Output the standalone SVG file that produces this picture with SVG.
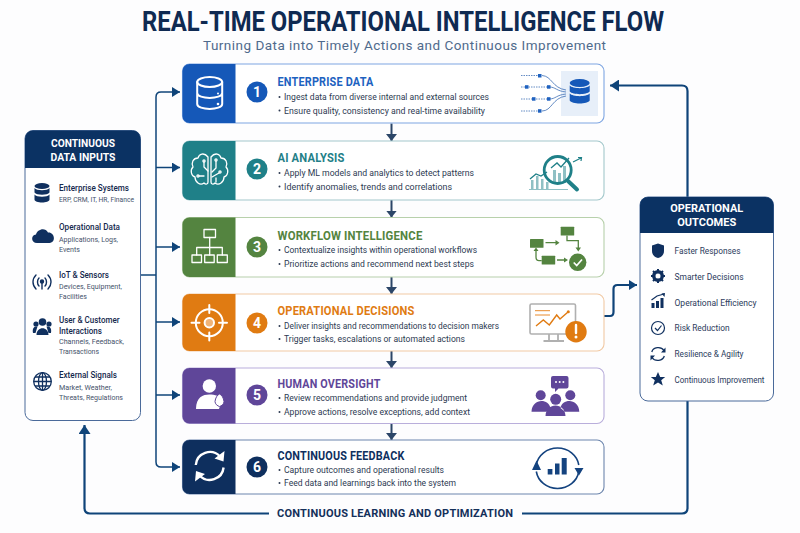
<svg xmlns="http://www.w3.org/2000/svg" width="800" height="533" viewBox="0 0 800 533">
<style>
text{font-family:"Roboto","Liberation Sans",sans-serif}
.t{font-size:12px;font-weight:700;letter-spacing:.2px}
.b{font-size:9px;fill:#2d3a52;font-weight:400}
.dot{fill:#2d3a52}
.n{font-size:14px;font-weight:700;fill:#fff;text-anchor:middle}
.h{font-size:11.5px;font-weight:700;fill:#fff}
.i{font-size:8.5px;fill:#14284d;font-weight:500}
.s{font-size:7.5px;fill:#45526a}
.o{font-size:8.5px;fill:#2b3b5c}
.w{fill:none;stroke:#fff;stroke-width:2;stroke-linecap:round;stroke-linejoin:round}
.w1{fill:none;stroke:#fff;stroke-width:1.300;stroke-linecap:round;stroke-linejoin:round}
.card{fill:#fff;stroke-width:1.100}
.panel{fill:#fff;stroke:#4a6a9a;stroke-width:1}
.flow{fill:none;stroke:#2c4668;stroke-width:2}
.feed{fill:none;stroke:#0f4479;stroke-width:2.200;stroke-linejoin:round}
.in{fill:none;stroke:#0f4479;stroke-width:1.500}
.nv{fill:#10305f}
</style>
<defs>
<marker id="ah" markerWidth="9" markerHeight="10" refX="8" refY="5" orient="auto" markerUnits="userSpaceOnUse"><path d="M0 0L8 5L0 10Z" fill="#0f4479"/></marker>
<marker id="af" markerWidth="10" markerHeight="12" refX="9" refY="6" orient="auto" markerUnits="userSpaceOnUse"><path d="M0 0L9 6L0 12Z" fill="#0f4479"/></marker>
<marker id="av" markerWidth="8" markerHeight="11" refX="7" refY="5.500" orient="auto" markerUnits="userSpaceOnUse"><path d="M0 0L7 5.500L0 11Z" fill="#2c4668"/></marker>
</defs>
<rect width="800" height="533" fill="#fdfdfe"/>
<g id="header">
<text x="142" y="31" font-size="28.500" font-weight="700" fill="#0f2a52" textLength="522" lengthAdjust="spacingAndGlyphs">REAL-TIME OPERATIONAL INTELLIGENCE FLOW</text>
<text x="203" y="50" font-size="13.500" fill="#4f6a8c" textLength="403" lengthAdjust="spacing">Turning Data into Timely Actions and Continuous Improvement</text>
</g>
<g id="connectors">
<path class="in" d="M140.500 275H156"/>
<path class="in" d="M161 92H180" marker-end="url(#ah)"/>
<path class="in" d="M161 92Q156 92 156 97V462Q156 467 161 467H180" marker-end="url(#ah)"/>
<path class="in" d="M156 167.500H180" marker-end="url(#ah)"/>
<path class="in" d="M156 247H180" marker-end="url(#ah)"/>
<path class="in" d="M156 322H180" marker-end="url(#ah)"/>
<path class="in" d="M156 395H180" marker-end="url(#ah)"/>
<path class="flow" d="M391.500 123.500V141" marker-end="url(#av)"/>
<path class="flow" d="M391.500 200V217.500" marker-end="url(#av)"/>
<path class="flow" d="M391.500 277V294" marker-end="url(#av)"/>
<path class="flow" d="M391.500 351V368" marker-end="url(#av)"/>
<path class="flow" d="M391.500 423.500V440" marker-end="url(#av)"/>
<path class="feed" d="M604 316H610Q613.500 316 613.500 312V289Q613.500 285 617.500 285H637" marker-end="url(#ah)"/>
<path class="feed" d="M687.500 197V91Q687.500 85.500 682 85.500H610" marker-end="url(#af)"/>
<path class="feed" d="M687.500 401V508Q687.500 513.500 682 513.500H522"/>
<path class="feed" d="M269 513.500H90Q84.500 513.500 84.500 508V425" marker-end="url(#af)"/>
<text x="277" y="517.300" font-size="11" font-weight="700" fill="#14305a" textLength="236" lengthAdjust="spacing">CONTINUOUS LEARNING AND OPTIMIZATION</text>
</g>
<g id="inputs">
<rect class="panel" x="25" y="130.500" width="115.500" height="290" rx="8"/>
<path style="fill:#0b3263" d="M25 168V138.500a8 8 0 0 1 8-8H132.500a8 8 0 0 1 8 8V168Z"/>
<text class="h" x="83" y="147" text-anchor="middle" textLength="64" lengthAdjust="spacingAndGlyphs">CONTINUOUS</text>
<text class="h" x="83" y="161" text-anchor="middle" textLength="65" lengthAdjust="spacingAndGlyphs">DATA INPUTS</text>
<g id="input-enterprise">
<ellipse class="nv" cx="42" cy="186" rx="7.500" ry="3"/><path class="nv" d="M34.500 188c2 3 13 3 15 0v4.500c-2 3-13 3-15 0ZM34.500 194.500c2 3 13 3 15 0v5c0 4-15 4-15 0Z"/>
<text class="i" x="59" y="191" textLength="70" lengthAdjust="spacingAndGlyphs">Enterprise Systems</text>
<text class="s" x="59" y="202" textLength="75" lengthAdjust="spacingAndGlyphs">ERP, CRM, IT, HR, Finance</text></g>
<g id="input-operational">
<path class="nv" d="M37 243c-6 0-6.500-8-1-8.500 1-5 9-8 12-2 6-1 9 9.500 1.500 10.500Z"/>
<text class="i" x="59" y="230" textLength="61" lengthAdjust="spacingAndGlyphs">Operational Data</text>
<text class="s" x="59" y="241.500" textLength="59" lengthAdjust="spacingAndGlyphs">Applications, Logs,</text>
<text class="s" x="59" y="251.500" textLength="21" lengthAdjust="spacingAndGlyphs">Events</text></g>
<g id="input-iot" fill="none" stroke="#10305f" stroke-width="1.400" stroke-linecap="round">
<path d="M36 275c-4 4-4 10 0 14M48 275c4 4 4 10 0 14M39 278c-2 2-2 6 0 8M45 278c2 2 2 6 0 8M42 282V289"/><circle cx="42" cy="281.500" r="1.500" fill="#10305f"/>
<text class="i" x="59" y="278" stroke="none" textLength="50" lengthAdjust="spacingAndGlyphs">IoT &amp; Sensors</text>
<text class="s" x="59" y="289" stroke="none" textLength="63" lengthAdjust="spacingAndGlyphs">Devices, Equipment,</text>
<text class="s" x="59" y="299" stroke="none" textLength="28" lengthAdjust="spacingAndGlyphs">Facilities</text></g>
<g id="input-users">
<circle class="nv" cx="42.500" cy="322" r="3.800"/><circle class="nv" cx="36" cy="324" r="2.600"/><circle class="nv" cx="49" cy="324" r="2.600"/>
<path class="nv" d="M36.500 335c0-9 12-9 12 0ZM33 333c-1-6 2-7 4.500-6.500l-2 6.500ZM51 333c1-6-2-7-4.500-6.500l2 6.500Z"/>
<text class="i" x="59" y="323" textLength="60.500" lengthAdjust="spacingAndGlyphs">User &amp; Customer</text>
<text class="i" x="59" y="333.500" textLength="43" lengthAdjust="spacingAndGlyphs">Interactions</text>
<text class="s" x="59" y="344" textLength="65" lengthAdjust="spacingAndGlyphs">Channels, Feedback,</text>
<text class="s" x="59" y="354" textLength="40" lengthAdjust="spacingAndGlyphs">Transactions</text></g>
<g id="input-external">
<g fill="none" stroke="#10305f" stroke-width="1.300"><circle cx="42.500" cy="381.500" r="8.800"/><ellipse cx="42.500" cy="381.500" rx="4" ry="8.800"/><path d="M33.700 381.500H51.300M35 377H50M35 386H50M42.500 372.700V390.300"/></g>
<text class="i" x="59" y="378" textLength="58" lengthAdjust="spacingAndGlyphs">External Signals</text>
<text class="s" x="59" y="390" textLength="53" lengthAdjust="spacingAndGlyphs">Market, Weather,</text>
<text class="s" x="59" y="399.500" textLength="64" lengthAdjust="spacingAndGlyphs">Threats, Regulations</text></g>
</g>
<g id="card1">
<rect class="card" stroke="#7fa6e2" x="182.500" y="64" width="421.500" height="59" rx="7"/>
<path fill="#1558b8" d="M235.500 64V123H189.500a7 7 0 0 1-7-7V71a7 7 0 0 1 7-7Z"/>
<g class="w"><ellipse cx="209.700" cy="82" rx="12.500" ry="5"/><path d="M197.200 82V104c0 6.500 25 6.500 25 0V82M197.200 93c0 6.500 25 6.500 25 0"/></g>
<circle cx="218" cy="93.500" r="1" fill="#fff"/><circle cx="218" cy="104" r="1.300" fill="#fff"/>
<circle cx="257" cy="92" r="10.500" fill="#1558b8"/><text class="n" x="257" y="97">1</text>
<text class="t" x="277.500" y="86" fill="#1d62c0" textLength="96" lengthAdjust="spacingAndGlyphs">ENTERPRISE DATA</text>
<circle class="dot" cx="279.500" cy="97" r="1"/><text class="b" x="284" y="100" textLength="205" lengthAdjust="spacingAndGlyphs">Ingest data from diverse internal and external sources</text>
<circle class="dot" cx="279.500" cy="110.500" r="1"/><text class="b" x="284" y="113.500" textLength="201" lengthAdjust="spacingAndGlyphs">Ensure quality, consistency and real-time availability</text>
<rect x="561" y="71" width="37" height="45" fill="#e7eff9"/>
<g fill="none" stroke="#3d6fb5" stroke-width=".8"><path stroke-dasharray="1.500 1" d="M521 75.500H538M521 87H547M521 99H547M521 111H538"/><path d="M542 75.500C552 76 552 88 566 90M549 87C556 87 556 91 566 92M549 99C556 99 556 95 566 94M542 111C552 111 552 98 566 96"/></g>
<g fill="#1f62c0"><rect x="538" y="74" width="3.500" height="3.500"/><rect x="525" y="85.200" width="3.500" height="3.500"/><rect x="547" y="85.200" width="3.500" height="3.500"/><rect x="532" y="97.200" width="3.500" height="3.500"/><rect x="547" y="97.200" width="3.500" height="3.500"/><rect x="538" y="109.200" width="3.500" height="3.500"/></g>
<ellipse cx="579.700" cy="83" rx="10" ry="4" fill="#1558b8"/><path fill="#1558b8" d="M569.700 85.500c3 3.500 17 3.500 20 0v6c-3 3.500-17 3.500-20 0ZM569.700 93.500c3 3.500 17 3.500 20 0v7c-2 4-18 4-20 0Z"/>
</g>
<g id="card2">
<rect class="card" stroke="#a3c8cb" x="182.500" y="141" width="421.500" height="59" rx="7"/>
<path fill="#1f8088" d="M235.500 141V200H189.500a7 7 0 0 1-7-7V148a7 7 0 0 1 7-7Z"/>
<g class="w1"><path d="M208 157C204 152 199 154 198 158 193 158 191 163 193 167 190 170 191 176 195 177 195 182 200 186 204 183 206 185 208 184 208 182ZM211 157C215 152 220 154 221 158 226 158 228 163 226 167 229 170 228 176 224 177 224 182 219 186 215 183 213 185 211 184 211 182Z"/><path d="M208 171L204 167V162M204 176H199M212 172L216 168V161M212 177L219 173M216 182V178"/><circle cx="204" cy="161" r="1.100"/><circle cx="198" cy="176" r="1.100"/><circle cx="216" cy="160" r="1.100"/><circle cx="220" cy="172" r="1.100"/></g>
<circle cx="257" cy="169" r="10.500" fill="#1f8088"/><text class="n" x="257" y="174">2</text>
<text class="t" x="277.500" y="162" fill="#1f8088" textLength="67" lengthAdjust="spacingAndGlyphs">AI ANALYSIS</text>
<circle class="dot" cx="279.500" cy="173" r="1"/><text class="b" x="284" y="176" textLength="190" lengthAdjust="spacingAndGlyphs">Apply ML models and analytics to detect patterns</text>
<circle class="dot" cx="279.500" cy="186.500" r="1"/><text class="b" x="284" y="189.500" textLength="168" lengthAdjust="spacingAndGlyphs">Identify anomalies, trends and correlations</text>
<g fill="#8fc0c4"><rect x="531" y="180" width="2.500" height="9"/><rect x="536" y="176" width="2.500" height="13"/><rect x="541" y="179" width="2.500" height="10"/><rect x="546" y="182" width="2.500" height="7"/><rect x="553" y="170" width="3" height="14"/><rect x="558" y="173" width="3" height="11"/><rect x="563" y="166" width="3" height="17"/></g>
<path d="M529 189.500H568" stroke="#8fc0c4" stroke-width="1.200"/>
<g fill="none" stroke="#1f8088"><path stroke-width="1.300" d="M530 179L536 174 541 176 547 172M551 168L557 163 561 167 569 158"/><circle cx="557.700" cy="170" r="13.500" stroke-width="2.800"/><path stroke-width="4" stroke-linecap="round" d="M568 181L577 189.500"/><path stroke-width="1.200" d="M573 162L581 158M578 157.500L581.500 157.500 581 161"/></g>
</g>
<g id="card3">
<rect class="card" stroke="#b7d0ab" x="182.500" y="217.500" width="421.500" height="59.500" rx="7"/>
<path fill="#548440" d="M235.500 217.500V277H189.500a7 7 0 0 1-7-7V224.500a7 7 0 0 1 7-7Z"/>
<g class="w1"><rect x="204" y="229.500" width="11.500" height="8"/><rect x="192" y="255" width="9.500" height="7.500"/><rect x="204.700" y="255" width="9.500" height="7.500"/><rect x="217.300" y="255" width="10" height="7.500"/><path d="M209.700 237.500V255M196.700 255V247.500H222.300V255"/></g>
<circle cx="257" cy="247" r="10.500" fill="#548440"/><text class="n" x="257" y="252">3</text>
<text class="t" x="277.500" y="240" fill="#548440" textLength="145" lengthAdjust="spacingAndGlyphs">WORKFLOW INTELLIGENCE</text>
<circle class="dot" cx="279.500" cy="250" r="1"/><text class="b" x="284" y="253" textLength="193" lengthAdjust="spacingAndGlyphs">Contextualize insights within operational workflows</text>
<circle class="dot" cx="279.500" cy="264" r="1"/><text class="b" x="284" y="267" textLength="190" lengthAdjust="spacingAndGlyphs">Prioritize actions and recommend next best steps</text>
<g fill="#548440"><rect x="530" y="239" width="13.500" height="8.700" rx=".5"/><rect x="560.700" y="226.700" width="13.500" height="8.700" rx=".5"/><rect x="541.700" y="255.700" width="13.500" height="8.700" rx=".5"/><circle cx="577.700" cy="262.300" r="8.700"/><path d="M555.500 240L559.500 242.700 555.500 245.500ZM564 257.500L568 260 564 262.500ZM575.500 247.500L581 247.500 578.300 251.500ZM533.500 251L538.500 251 536 247.500Z"/></g>
<g fill="none" stroke="#548440" stroke-width="1.300"><path d="M545.500 242.700H556M557 260H565M567 235.500V240.700H578.300V248M541.700 260.700H539Q536 260.700 536 257V250"/></g>
<path d="M573.700 262.500L576.700 265.500 582 259.500" fill="none" stroke="#fff" stroke-width="1.700"/>
</g>
<g id="card4">
<rect class="card" stroke="#f1c9a4" x="182.500" y="294" width="421.500" height="57" rx="7"/>
<path fill="#e07b12" d="M235.500 294V351H189.500a7 7 0 0 1-7-7V301a7 7 0 0 1 7-7Z"/>
<g class="w"><circle cx="209.300" cy="322.700" r="13.500"/><path d="M209.300 305V313M209.300 332.500V340.500M191.500 322.700H199.500M219 322.700H227"/><circle cx="209.300" cy="322.700" r="4.700" fill="#f0b478"/></g>
<circle cx="257" cy="323" r="10.500" fill="#e07b12"/><text class="n" x="257" y="328">4</text>
<text class="t" x="277.500" y="315" fill="#e07b12" textLength="137" lengthAdjust="spacingAndGlyphs">OPERATIONAL DECISIONS</text>
<circle class="dot" cx="279.500" cy="326" r="1"/><text class="b" x="284" y="329" textLength="215" lengthAdjust="spacingAndGlyphs">Deliver insights and recommendations to decision makers</text>
<circle class="dot" cx="279.500" cy="339" r="1"/><text class="b" x="284" y="342" textLength="181" lengthAdjust="spacingAndGlyphs">Trigger tasks, escalations or automated actions</text>
<rect x="530" y="304" width="45.500" height="30" rx="1.500" fill="#fff" stroke="#b0b0b0" stroke-width="1.600"/>
<path d="M549 334V340M558 334V340M543.500 341H564" stroke="#b0b0b0" stroke-width="1.800" fill="none"/>
<path d="M535 310.700H550M535 315H550" stroke="#e88a2c" stroke-width="1"/>
<path d="M536 326L543.300 320 549.300 325 556.700 315 560 319 568.300 311.700" fill="none" stroke="#e07b12" stroke-width="1.400"/>
<circle cx="568.300" cy="311.700" r="1.500" fill="#e07b12"/>
<circle cx="576" cy="331.700" r="10.700" fill="#e07b12"/>
<path d="M576 325V333" stroke="#fff" stroke-width="2.400" stroke-linecap="round"/><circle cx="576" cy="337" r="1.500" fill="#fff"/>
</g>
<g id="card5">
<rect class="card" stroke="#b9aedb" x="182.500" y="368" width="421.500" height="55.500" rx="7"/>
<path fill="#5f4699" d="M235.500 368V423.500H189.500a7 7 0 0 1-7-7V375a7 7 0 0 1 7-7Z"/>
<circle cx="209.300" cy="386" r="6.700" fill="#fff"/><path fill="#fff" d="M196 409C196 397 203 394.500 209.300 394.500 215 394.500 220 396 222 400L219 409Z"/>
<path fill="#fff" stroke="#5f4699" d="M219.500 394c2.500 1 4 4 4.500 7.500 0 2.500-2.500 4.500-4.500 5-2-.5-4.500-2.500-4.500-5 .5-3.500 2-6.500 4.500-7.500Z"/>
<circle cx="257" cy="395" r="10.500" fill="#5f4699"/><text class="n" x="257" y="400">5</text>
<text class="t" x="277.500" y="388" fill="#5f4699" textLength="103" lengthAdjust="spacingAndGlyphs">HUMAN OVERSIGHT</text>
<circle class="dot" cx="279.500" cy="398" r="1"/><text class="b" x="284" y="401" textLength="183" lengthAdjust="spacingAndGlyphs">Review recommendations and provide judgment</text>
<circle class="dot" cx="279.500" cy="412" r="1"/><text class="b" x="284" y="415" textLength="186" lengthAdjust="spacingAndGlyphs">Approve actions, resolve exceptions, add context</text>
<g fill="#5f4699"><path d="M553 376H566.500a2 2 0 0 1 2 2V386.500a2 2 0 0 1-2 2H558.500L555 392V388.500H553a2 2 0 0 1-2-2V378a2 2 0 0 1 2-2Z"/>
<circle cx="555.700" cy="399.300" r="5.500"/><circle cx="540.700" cy="395.300" r="5"/><circle cx="570.300" cy="395.300" r="5"/>
<path d="M531.500 411.700C532 398 548.500 398 550.500 408L546 411.700ZM579.300 411.700C579 398 562 398 560.500 408L565 411.700ZM545.500 416C546 402 565 402 565.500 416Z"/></g>
<g fill="#fff"><circle cx="556" cy="382" r="1"/><circle cx="559.700" cy="382" r="1"/><circle cx="563.400" cy="382" r="1"/></g>
</g>
<g id="card6">
<rect class="card" stroke="#6d86ad" x="182.500" y="440" width="421.500" height="54" rx="7"/>
<path fill="#0e2f5e" d="M235.500 440V494H189.500a7 7 0 0 1-7-7V447a7 7 0 0 1 7-7Z"/>
<g fill="none" stroke="#fff" stroke-width="2.400"><path d="M195.800 465A14 14 0 0 1 220 456.500M223.600 467.500A14 14 0 0 1 199.500 475.500"/></g>
<path fill="#fff" d="M224.500 451L223.500 461.500 214.500 458.500ZM195 481.500L196 471 205 474Z"/>
<circle cx="257" cy="467" r="10.500" fill="#0e2f5e"/><text class="n" x="257" y="472">6</text>
<text class="t" x="277.500" y="460" fill="#0e2f5e" textLength="127" lengthAdjust="spacingAndGlyphs">CONTINUOUS FEEDBACK</text>
<circle class="dot" cx="279.500" cy="470" r="1"/><text class="b" x="284" y="473" textLength="160" lengthAdjust="spacingAndGlyphs">Capture outcomes and operational results</text>
<circle class="dot" cx="279.500" cy="483" r="1"/><text class="b" x="284" y="486" textLength="172" lengthAdjust="spacingAndGlyphs">Feed data and learnings back into the system</text>
<g fill="none" stroke="#14437f" stroke-width="1.600"><path d="M536.300 465A21.500 20 0 0 1 578.800 465M578.800 471.500A21.500 20 0 0 1 536.300 471.500"/></g>
<path fill="#14437f" d="M532 470L536.500 460.500 541 470ZM574.500 468L583.500 468 579 475.500Z"/>
<g fill="#14437f"><rect x="547.700" y="469" width="4.700" height="5.500"/><rect x="555" y="463.500" width="4.500" height="11"/><rect x="561.700" y="458" width="5" height="16.500"/></g>
</g>
<g id="outcomes">
<rect class="panel" x="640" y="197" width="133.500" height="204" rx="8"/>
<path style="fill:#0b3263" d="M640 233V205a8 8 0 0 1 8-8H765.500a8 8 0 0 1 8 8V233Z"/>
<text class="h" x="706.700" y="212" text-anchor="middle" textLength="73" lengthAdjust="spacingAndGlyphs">OPERATIONAL</text>
<text class="h" x="706.700" y="226" text-anchor="middle" textLength="59" lengthAdjust="spacingAndGlyphs">OUTCOMES</text>
<g id="out1"><path class="nv" d="M658 243.500L664 245.500V251C664 255 661 257.500 658 258 655 257.500 652 255 652 251V245.500Z"/><text class="o" x="674.500" y="254" textLength="66" lengthAdjust="spacingAndGlyphs">Faster Responses</text></g>
<g id="out2"><circle cx="658" cy="276" r="4.500" fill="none" stroke="#10305f" stroke-width="3"/><path d="M658 269V283M651 276H665M653 271L663 281M663 271L653 281" stroke="#10305f" stroke-width="2"/><circle cx="658" cy="276" r="2.500" fill="#fff"/><text class="o" x="674.500" y="279.500" textLength="69" lengthAdjust="spacingAndGlyphs">Smarter Decisions</text></g>
<g id="out3"><g class="nv"><rect x="651.500" y="303" width="3" height="5"/><rect x="656" y="301" width="3" height="7"/><rect x="660.500" y="298" width="3" height="10"/></g><path d="M651.500 300L657 296 664 294" fill="none" stroke="#10305f" stroke-width="1.200"/><path class="nv" d="M661.500 293.500L665 293 664.500 297Z"/><text class="o" x="674.500" y="305.500" textLength="82" lengthAdjust="spacingAndGlyphs">Operational Efficiency</text></g>
<g id="out4"><circle cx="658" cy="328" r="6.500" fill="none" stroke="#10305f" stroke-width="1.200"/><path d="M655 328L657.500 330.500 661.500 325.500" fill="none" stroke="#10305f" stroke-width="1.200"/><text class="o" x="674.500" y="331" textLength="55" lengthAdjust="spacingAndGlyphs">Risk Reduction</text></g>
<g id="out5"><path d="M651.800 352C653 347 661 346 664 350.500M664.300 356C663 361 655 362 652 357.500" fill="none" stroke="#10305f" stroke-width="1.300"/><path class="nv" d="M665.500 347.500V352.500H661ZM650.500 360.500V355.500H655Z"/><text class="o" x="674.500" y="357" textLength="69" lengthAdjust="spacingAndGlyphs">Resilience &amp; Agility</text></g>
<g id="out6"><path class="nv" d="M658 372L660.200 377H665.200L661.200 380.300 662.800 385.500 658 382.500 653.200 385.500 654.800 380.300 650.800 377H655.800Z"/><text class="o" x="674.500" y="383" textLength="90" lengthAdjust="spacingAndGlyphs">Continuous Improvement</text></g>
</g>
</svg>
